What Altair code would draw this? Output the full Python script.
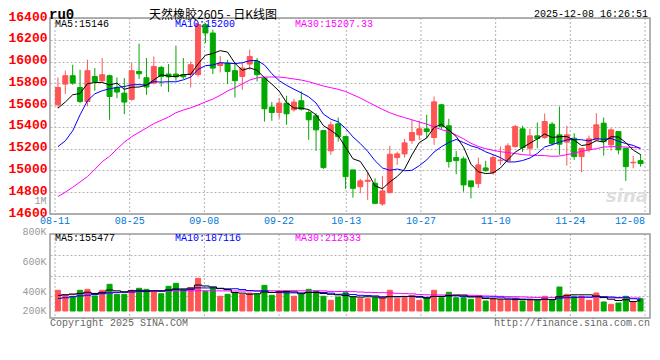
import altair as alt
import pandas as pd

# ---------------- data ----------------
tick_index = [0, 10, 20, 30, 39, 49, 59, 69, 79]
tick_labels = ["08-11", "08-25", "09-08", "09-22", "10-13", "10-27", "11-10", "11-24", "12-08"]

open_ = [15603, 15793, 15870, 15762, 15633, 15863, 15824, 15870, 15762, 15710,
         15653, 15909, 15851, 15802, 15946, 15885, 15885, 15880, 15879, 15880,
         16339, 16262, 15963, 15986, 15916, 15863, 15977, 16001, 15848, 15582,
         15532, 15618, 15557, 15640, 15532, 15502, 15366, 15180, 15428, 15311,
         15005, 14851, 14900, 14882, 14692, 14796, 15118, 15152, 15274, 15327,
         15382, 15302, 15603, 15410, 15118, 15106, 14904, 14879, 15023, 14980,
         15090, 15090, 15219, 15382, 15204, 15318, 15302, 15425, 15327, 15260,
         15296, 15127, 15189, 15281, 15434, 15235, 15357, 15204, 15070, 15090]
close = [15762, 15870, 15802, 15633, 15916, 15817, 15879, 15679, 15720, 15628,
         15916, 15888, 15766, 15955, 15863, 15860, 15860, 15860, 15971, 16340,
         16262, 15940, 15986, 15909, 15824, 15940, 16047, 15879, 15566, 15532,
         15618, 15520, 15628, 15563, 15465, 15373, 15026, 15419, 15311, 14943,
         14836, 14904, 14910, 14698, 14812, 15149, 15152, 15253, 15348, 15382,
         15357, 15630, 15403, 15081, 15090, 14867, 14851, 15051, 14998, 15118,
         15095, 15226, 15403, 15210, 15318, 15293, 15449, 15247, 15241, 15327,
         15127, 15204, 15290, 15419, 15265, 15373, 15189, 15035, 15075, 15063]
high = [15854, 15916, 15971, 15925, 16017, 15940, 16032, 15880, 15854, 15848,
        15986, 16164, 16032, 16047, 15960, 15977, 16146, 16032, 16001, 16360,
        16354, 16293, 16050, 16017, 15986, 15990, 16109, 16032, 15848, 15628,
        15664, 15686, 15658, 15725, 15557, 15526, 15370, 15449, 15486, 15311,
        15005, 14922, 14989, 14928, 14950, 15226, 15173, 15290, 15465, 15456,
        15511, 15679, 15610, 15474, 15180, 15127, 14904, 15118, 15088, 15143,
        15219, 15250, 15419, 15410, 15382, 15440, 15523, 15444, 15587, 15410,
        15342, 15204, 15320, 15526, 15486, 15388, 15357, 15204, 15134, 15149]
low = [15572, 15701, 15787, 15620, 15587, 15732, 15810, 15465, 15664, 15517,
       15640, 15840, 15695, 15790, 15771, 15720, 15824, 15840, 15762, 15860,
       16170, 15885, 15900, 15793, 15670, 15741, 15925, 15817, 15449, 15456,
       15480, 15419, 15540, 15550, 15281, 15180, 15014, 15143, 15265, 14830,
       14750, 14790, 14729, 14689, 14676, 14790, 15051, 15118, 15244, 15281,
       15296, 15235, 15380, 15026, 14965, 14805, 14744, 14839, 14989, 14959,
       15051, 15080, 15210, 15170, 15143, 15204, 15290, 15228, 15143, 15044,
       15097, 14984, 15168, 15270, 15136, 15182, 15149, 14904, 15020, 15035]

ma5 = [15572, 15628, 15695, 15707, 15797, 15808, 15809, 15785, 15802, 15745,
       15764, 15766, 15784, 15831, 15878, 15866, 15861, 15880, 15883, 15978,
       16058, 16074, 16100, 16087, 15984, 15920, 15941, 15920, 15851, 15793,
       15728, 15623, 15573, 15572, 15559, 15510, 15411, 15369, 15319, 15214,
       15107, 15083, 14981, 14858, 14832, 14895, 14944, 15013, 15143, 15257,
       15298, 15394, 15424, 15371, 15312, 15214, 15058, 14988, 14971, 14977,
       15023, 15098, 15168, 15210, 15250, 15290, 15335, 15303, 15310, 15311,
       15278, 15229, 15238, 15273, 15261, 15310, 15307, 15256, 15187, 15146]
ma10 = [15219, 15272, 15364, 15511, 15640, 15704, 15732, 15750, 15762, 15771,
        15786, 15788, 15784, 15816, 15811, 15815, 15814, 15832, 15857, 15928,
        15962, 15968, 15990, 15985, 15981, 15989, 16008, 16010, 15969, 15889,
        15824, 15782, 15746, 15712, 15676, 15619, 15517, 15471, 15446, 15387,
        15308, 15247, 15175, 15089, 15023, 15001, 15013, 14997, 15001, 15044,
        15097, 15169, 15218, 15257, 15285, 15256, 15226, 15206, 15171, 15145,
        15118, 15078, 15078, 15091, 15114, 15156, 15216, 15236, 15260, 15281,
        15284, 15282, 15271, 15292, 15286, 15294, 15268, 15247, 15230, 15200]
ma30 = [14760, 14800, 14845, 14895, 14943, 15010, 15080, 15130, 15195, 15260,
        15310, 15350, 15390, 15430, 15460, 15490, 15530, 15555, 15575, 15600,
        15630, 15655, 15690, 15730, 15760, 15795, 15830, 15850, 15858, 15858,
        15858, 15850, 15840, 15830, 15815, 15795, 15775, 15760, 15745, 15725,
        15695, 15665, 15630, 15595, 15560, 15530, 15505, 15485, 15465, 15445,
        15425, 15400, 15375, 15355, 15325, 15290, 15250, 15220, 15200, 15185,
        15172, 15164, 15155, 15145, 15140, 15138, 15136, 15130, 15132, 15145,
        15160, 15175, 15189, 15200, 15215, 15218, 15219, 15215, 15210, 15207.33]

# volume in thousands of lots
volume_k = [321, 243, 228, 321, 336, 233, 321, 414, 259, 259,
            321, 352, 336, 295, 268, 383, 429, 336, 361, 507,
            305, 361, 228, 259, 279, 259, 279, 259, 398, 243,
            305, 305, 228, 259, 336, 305, 228, 166, 217, 284,
            217, 191, 191, 206, 206, 321, 191, 206, 233, 166,
            206, 321, 206, 290, 206, 206, 181, 217, 155, 191,
            181, 166, 191, 155, 181, 155, 228, 166, 372, 259,
            228, 228, 166, 279, 140, 104, 124, 228, 140, 191]
vma5 = [240, 250, 262, 272, 290, 272, 288, 325, 313, 297,
        315, 321, 305, 313, 314, 327, 342, 342, 355, 403,
        388, 374, 352, 332, 286, 277, 261, 267, 295, 288,
        297, 302, 296, 268, 287, 287, 271, 259, 250, 240,
        222, 215, 220, 218, 202, 223, 223, 226, 231, 223,
        200, 226, 226, 238, 246, 246, 218, 220, 193, 190,
        185, 182, 177, 177, 175, 170, 182, 177, 220, 236,
        251, 251, 251, 232, 208, 183, 163, 175, 147, 157]
vma10 = [195, 205, 220, 235, 245, 255, 268, 280, 290, 294,
         294, 304, 315, 313, 306, 321, 332, 324, 334, 359,
         357, 358, 347, 344, 345, 332, 317, 310, 313, 287,
         287, 281, 281, 281, 287, 292, 287, 277, 259, 263,
         255, 243, 239, 234, 221, 223, 219, 223, 225, 213,
         212, 225, 226, 235, 235, 223, 222, 223, 215, 218,
         215, 200, 198, 185, 182, 177, 182, 177, 199, 205,
         210, 216, 214, 226, 222, 217, 207, 213, 190, 183]
vma30 = [250, 255, 260, 265, 268, 272, 275, 280, 285, 290,
         294, 298, 302, 305, 308, 310, 311, 312, 313, 314,
         314, 313, 312, 311, 310, 310, 311, 312, 313, 313,
         313, 315, 315, 313, 313, 315, 312, 304, 302, 303,
         300, 294, 289, 286, 284, 282, 274, 270, 266, 254,
         251, 250, 249, 250, 248, 246, 243, 241, 233, 231,
         227, 223, 221, 218, 213, 208, 208, 208, 213, 212,
         212, 214, 213, 215, 213, 206, 204, 204, 201, 202]
vol_ma_last = [155477, 187116, 212533]

price_ticks = [14600, 14800, 15000, 15200, 15400, 15600, 15800, 16000, 16200, 16400]
vol_tick_text = ["200K", "400K", "600K", "800K", "1M"]
vol_tick_pos = [15.5, 310, 775, 1240, 1720]
vol_grid_pos = [229, 550, 872]

# ---------------- tables ----------------
N = len(close)
df = pd.DataFrame({
    "i": list(range(N)), "open": open_, "close": close, "high": high, "low": low,
    "ma5": ma5, "ma10": ma10, "ma30": ma30,
    "vol": volume_k, "vma5": vma5, "vma10": vma10, "vma30": vma30,
})
df["dir"] = ["up" if c >= o else "down" for o, c in zip(open_, close)]
ticks_df = pd.DataFrame({
    "t": [-0.4 + k * 80 / 79 for k in tick_index],
    "label": tick_labels,
    "last": [k == tick_index[-1] for k in tick_index],
})

RED, GREEN = "#FF5555", "#00A800"
MONO = "Liberation Mono"
GRID = "#b4b4b4"

X = alt.Scale(domain=[-0.4, 79.6], nice=False, zero=False)
PY = alt.Scale(domain=[14600, 16400], range=[196, 0], nice=False, zero=False)
VY = alt.Scale(domain=[-108.5, 1735], range=[300, 181.065], nice=False, zero=False)
DIR = alt.Scale(domain=["up", "down"], range=[RED, GREEN])
xenc = alt.X("i:Q", scale=X, axis=None)

price_axis = alt.Axis(orient="left", values=price_ticks, format="d", title=None, domain=False,
                      ticks=False, labelColor="#FF0000", labelFont=MONO, labelFontSize=13,
                      labelFontWeight="bold", labelPadding=3, labelOffset=-2, labelFlush=False,
                      labelOverlap=False, labelBaseline="middle", grid=True, gridColor=GRID,
                      gridDash=[2, 2])
expr = "".join(f"datum.value < {p + 1} ? '{t}' : " for p, t in zip(vol_tick_pos, vol_tick_text)) + "''"
vol_label_axis = alt.Axis(orient="left", values=vol_tick_pos, title=None, domain=False, ticks=False,
                          labelExpr=expr, labelColor="#999999", labelFont=MONO, labelFontSize=10,
                          labelPadding=4, labelFlush=False, labelOverlap=False,
                          labelBaseline="middle", grid=False)
vol_grid_axis = alt.Axis(orient="left", values=vol_grid_pos, title=None, domain=False, ticks=False,
                         labels=False, grid=True, gridColor=GRID, gridDash=[2, 2])

one = pd.DataFrame({"a": [0]})

vgrid_top = alt.Chart(ticks_df).mark_rule(color=GRID, strokeDash=[2, 2]).encode(
    x=alt.X("t:Q", scale=X, axis=None), y=alt.value(0), y2=alt.value(196))
vgrid_bot = alt.Chart(ticks_df).mark_rule(color=GRID, strokeDash=[2, 2]).encode(
    x=alt.X("t:Q", scale=X, axis=None), y=alt.value(216), y2=alt.value(300))

frame_top = alt.Chart(one).mark_rect(filled=False, stroke="#999999", strokeWidth=1.5).encode(
    x=alt.value(0), x2=alt.value(600), y=alt.value(0), y2=alt.value(196))
frame_bot = alt.Chart(one).mark_rect(filled=False, stroke="#999999", strokeWidth=1.5).encode(
    x=alt.value(0), x2=alt.value(600), y=alt.value(216), y2=alt.value(300))

wick = alt.Chart(df).mark_rule(strokeWidth=1).encode(
    x=xenc, y=alt.Y("low:Q", scale=PY, axis=price_axis), y2="high:Q",
    stroke=alt.Stroke("dir:N", scale=DIR, legend=None))
body = alt.Chart(df).mark_bar(width=5, strokeWidth=1).encode(
    x=xenc, y=alt.Y("open:Q", scale=PY, axis=None), y2="close:Q",
    fill=alt.Fill("dir:N", scale=DIR, legend=None),
    stroke=alt.Stroke("dir:N", scale=DIR, legend=None))


def pline(field, color):
    return alt.Chart(df).mark_line(color=color, strokeWidth=1).encode(
        x=xenc, y=alt.Y(f"{field}:Q", scale=PY, axis=None))


vbar = alt.Chart(df).mark_bar(width=5, strokeWidth=1).encode(
    x=xenc, y=alt.Y("vol:Q", scale=VY, axis=vol_label_axis), y2=alt.datum(0),
    fill=alt.Fill("dir:N", scale=DIR, legend=None),
    stroke=alt.Stroke("dir:N", scale=DIR, legend=None))


def vline(field, color, axis=None):
    return alt.Chart(df).mark_line(color=color, strokeWidth=1, interpolate="step").encode(
        x=xenc, y=alt.Y(f"{field}:Q", scale=VY, axis=axis))


date_mid = alt.Chart(ticks_df).transform_filter("!datum.last").mark_text(
    font=MONO, fontSize=10, color="#0078D7", baseline="middle", align="center").encode(
    x=alt.X("t:Q", scale=X, axis=None), y=alt.value(203), text="label:N")
date_end = alt.Chart(ticks_df).transform_filter("datum.last").mark_text(
    font=MONO, fontSize=10, color="#0078D7", baseline="middle", align="right").encode(
    x=alt.X("t:Q", scale=X, axis=None), y=alt.value(203), text="label:N")


def label(text, x, y, **kw):
    return alt.Chart(pd.DataFrame({"t": [text]})).mark_text(baseline="middle", **kw).encode(
        x=alt.value(x), y=alt.value(y), text="t:N")


texts = [
    label("ru0", -1, -3.5, align="left", font=MONO, fontSize=14, fontWeight="bold", color="#000000"),
    label("天然橡胶2605 - 日K线图", 163, -3.5, align="center", font="Noto Sans CJK SC", fontSize=12,
          color="#000000"),
    label("2025-12-08 16:26:51", 598, -4.5, align="right", font=MONO, fontSize=10, color="#000000"),
    label(f"MA5:{ma5[-1]}", 5, 6, align="left", font=MONO, fontSize=10, color="#000000"),
    label(f"MA10:{ma10[-1]}", 125, 6, align="left", font=MONO, fontSize=10, color="#0000FF"),
    label(f"MA30:{ma30[-1]}", 245, 6, align="left", font=MONO, fontSize=10, color="#FF00FF"),
    label(f"MA5:{vol_ma_last[0]}", 5, 219.8, align="left", font=MONO, fontSize=10, color="#000000"),
    label(f"MA10:{vol_ma_last[1]}", 125, 219.8, align="left", font=MONO, fontSize=10, color="#0000FF"),
    label(f"MA30:{vol_ma_last[2]}", 245, 219.8, align="left", font=MONO, fontSize=10, color="#FF00FF"),
    label("Copyright 2025 SINA.COM", 0, 305, align="left", font=MONO, fontSize=10, color="#666666"),
    label("http://finance.sina.com.cn", 600, 305, align="right", font=MONO, fontSize=10, color="#666666"),
    label("sina", 577, 179, align="center", font="DejaVu Sans", fontSize=18, fontWeight="bold",
          fontStyle="italic", color="#dedede"),
]

chart = alt.layer(
    vgrid_top, vgrid_bot,
    wick, body,
    pline("ma30", "#FF00FF"), pline("ma10", "#0000FF"), pline("ma5", "#000000"),
    vbar,
    vline("vma30", "#FF00FF", vol_grid_axis), vline("vma10", "#0000FF"), vline("vma5", "#000000"),
    frame_top, frame_bot,
    date_mid, date_end,
    *texts,
).resolve_scale(y="independent").properties(
    width=600, height=300,
    autosize=alt.AutoSizeParams(type="none"),
    padding={"left": 42, "right": 2, "top": 10, "bottom": 15},
    background="white",
).configure_view(stroke=None)

chart.save("out.html", embed_options={"renderer": "svg", "actions": False})
